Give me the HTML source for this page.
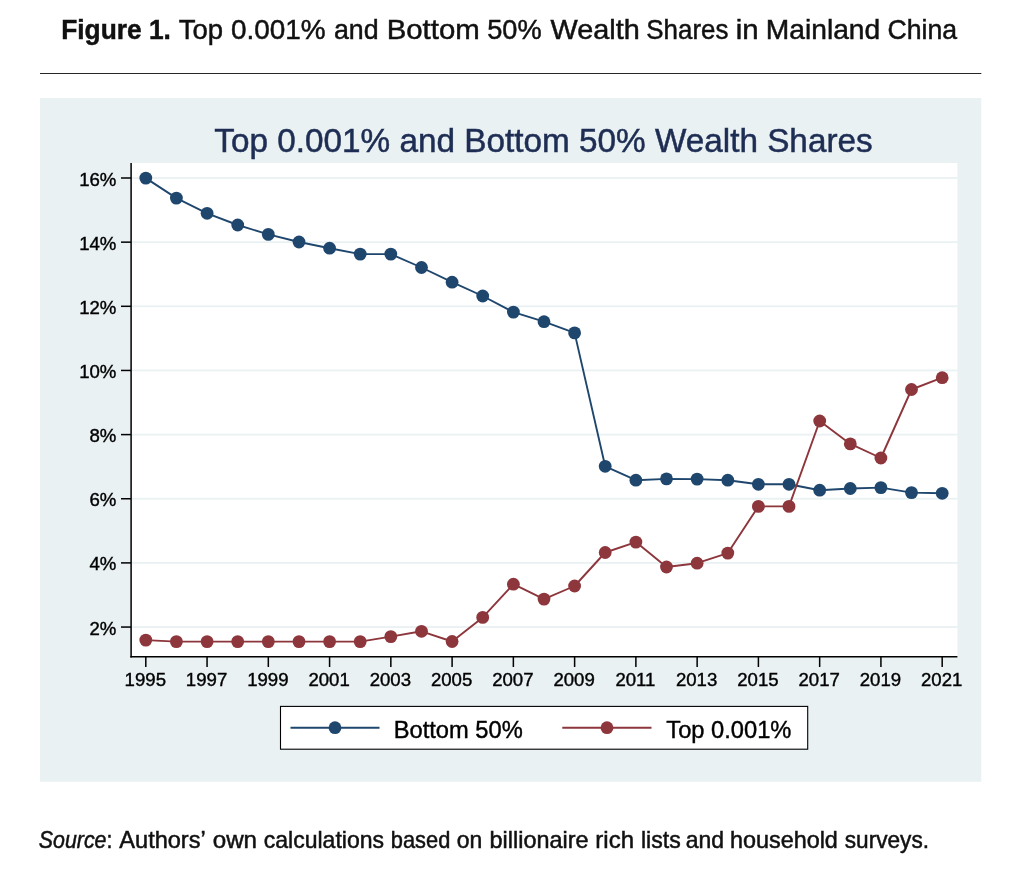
<!DOCTYPE html>
<html><head><meta charset="utf-8"><title>Figure 1</title>
<style>
html,body{margin:0;padding:0;background:#fff;}
body{width:1024px;height:872px;overflow:hidden;font-family:"Liberation Sans",sans-serif;}
svg{display:block;will-change:transform;}
svg text{font-family:"Liberation Sans",sans-serif;}
.ch text{stroke:#000;stroke-width:0.4px;}
.ch text.tt{stroke:#1e2d53;stroke-width:0.5px;}
.tx text{stroke:#111;stroke-width:0.5px;}
</style></head><body>
<svg width="1024" height="872" viewBox="0 0 1024 872">
<rect x="0" y="0" width="1024" height="872" fill="#ffffff"/>
<rect x="40" y="73" width="941.3" height="1" fill="#262626"/>
<g class="ch">
<rect x="40" y="98" width="941.3" height="683.8" fill="#eaf1f3"/>
<rect x="131.0" y="163.0" width="826.4" height="494.0" fill="#fff"/>
<rect x="131.0" y="177.10" width="826.4" height="1.8" fill="#eaf1f3"/>
<rect x="131.0" y="241.25" width="826.4" height="1.8" fill="#eaf1f3"/>
<rect x="131.0" y="305.40" width="826.4" height="1.8" fill="#eaf1f3"/>
<rect x="131.0" y="369.55" width="826.4" height="1.8" fill="#eaf1f3"/>
<rect x="131.0" y="433.70" width="826.4" height="1.8" fill="#eaf1f3"/>
<rect x="131.0" y="497.85" width="826.4" height="1.8" fill="#eaf1f3"/>
<rect x="131.0" y="562.00" width="826.4" height="1.8" fill="#eaf1f3"/>
<rect x="131.0" y="626.15" width="826.4" height="1.8" fill="#eaf1f3"/>
<polyline points="145.8,178.1 176.4,198.1 207.1,213.3 237.7,225.0 268.3,234.4 299.0,242.0 329.6,248.2 360.2,254.1 390.8,254.1 421.5,267.5 452.1,282.2 482.7,296.0 513.4,312.1 544.0,321.7 574.6,332.9 605.2,466.3 635.9,480.2 666.5,478.9 697.1,479.1 727.8,480.2 758.4,484.3 789.0,484.3 819.7,490.2 850.3,488.5 880.9,487.6 911.5,492.6 942.2,493.3" fill="none" stroke="#1f476e" stroke-width="1.9" stroke-linejoin="round"/>
<circle cx="145.8" cy="178.1" r="6.4" fill="#1f476e"/><circle cx="176.4" cy="198.1" r="6.4" fill="#1f476e"/><circle cx="207.1" cy="213.3" r="6.4" fill="#1f476e"/><circle cx="237.7" cy="225.0" r="6.4" fill="#1f476e"/><circle cx="268.3" cy="234.4" r="6.4" fill="#1f476e"/><circle cx="299.0" cy="242.0" r="6.4" fill="#1f476e"/><circle cx="329.6" cy="248.2" r="6.4" fill="#1f476e"/><circle cx="360.2" cy="254.1" r="6.4" fill="#1f476e"/><circle cx="390.8" cy="254.1" r="6.4" fill="#1f476e"/><circle cx="421.5" cy="267.5" r="6.4" fill="#1f476e"/><circle cx="452.1" cy="282.2" r="6.4" fill="#1f476e"/><circle cx="482.7" cy="296.0" r="6.4" fill="#1f476e"/><circle cx="513.4" cy="312.1" r="6.4" fill="#1f476e"/><circle cx="544.0" cy="321.7" r="6.4" fill="#1f476e"/><circle cx="574.6" cy="332.9" r="6.4" fill="#1f476e"/><circle cx="605.2" cy="466.3" r="6.4" fill="#1f476e"/><circle cx="635.9" cy="480.2" r="6.4" fill="#1f476e"/><circle cx="666.5" cy="478.9" r="6.4" fill="#1f476e"/><circle cx="697.1" cy="479.1" r="6.4" fill="#1f476e"/><circle cx="727.8" cy="480.2" r="6.4" fill="#1f476e"/><circle cx="758.4" cy="484.3" r="6.4" fill="#1f476e"/><circle cx="789.0" cy="484.3" r="6.4" fill="#1f476e"/><circle cx="819.7" cy="490.2" r="6.4" fill="#1f476e"/><circle cx="850.3" cy="488.5" r="6.4" fill="#1f476e"/><circle cx="880.9" cy="487.6" r="6.4" fill="#1f476e"/><circle cx="911.5" cy="492.6" r="6.4" fill="#1f476e"/><circle cx="942.2" cy="493.3" r="6.4" fill="#1f476e"/>

<polyline points="145.8,640.1 176.4,641.6 207.1,641.6 237.7,641.6 268.3,641.6 299.0,641.6 329.6,641.6 360.2,641.6 390.8,636.6 421.5,631.3 452.1,641.5 482.7,617.4 513.4,584.2 544.0,599.1 574.6,586.0 605.2,552.5 635.9,542.1 666.5,567.0 697.1,563.2 727.8,553.1 758.4,506.4 789.0,506.4 819.7,421.0 850.3,443.9 880.9,458.0 911.5,389.5 942.2,377.7" fill="none" stroke="#8d363c" stroke-width="1.9" stroke-linejoin="round"/>
<circle cx="145.8" cy="640.1" r="6.4" fill="#8d363c"/><circle cx="176.4" cy="641.6" r="6.4" fill="#8d363c"/><circle cx="207.1" cy="641.6" r="6.4" fill="#8d363c"/><circle cx="237.7" cy="641.6" r="6.4" fill="#8d363c"/><circle cx="268.3" cy="641.6" r="6.4" fill="#8d363c"/><circle cx="299.0" cy="641.6" r="6.4" fill="#8d363c"/><circle cx="329.6" cy="641.6" r="6.4" fill="#8d363c"/><circle cx="360.2" cy="641.6" r="6.4" fill="#8d363c"/><circle cx="390.8" cy="636.6" r="6.4" fill="#8d363c"/><circle cx="421.5" cy="631.3" r="6.4" fill="#8d363c"/><circle cx="452.1" cy="641.5" r="6.4" fill="#8d363c"/><circle cx="482.7" cy="617.4" r="6.4" fill="#8d363c"/><circle cx="513.4" cy="584.2" r="6.4" fill="#8d363c"/><circle cx="544.0" cy="599.1" r="6.4" fill="#8d363c"/><circle cx="574.6" cy="586.0" r="6.4" fill="#8d363c"/><circle cx="605.2" cy="552.5" r="6.4" fill="#8d363c"/><circle cx="635.9" cy="542.1" r="6.4" fill="#8d363c"/><circle cx="666.5" cy="567.0" r="6.4" fill="#8d363c"/><circle cx="697.1" cy="563.2" r="6.4" fill="#8d363c"/><circle cx="727.8" cy="553.1" r="6.4" fill="#8d363c"/><circle cx="758.4" cy="506.4" r="6.4" fill="#8d363c"/><circle cx="789.0" cy="506.4" r="6.4" fill="#8d363c"/><circle cx="819.7" cy="421.0" r="6.4" fill="#8d363c"/><circle cx="850.3" cy="443.9" r="6.4" fill="#8d363c"/><circle cx="880.9" cy="458.0" r="6.4" fill="#8d363c"/><circle cx="911.5" cy="389.5" r="6.4" fill="#8d363c"/><circle cx="942.2" cy="377.7" r="6.4" fill="#8d363c"/>

<rect x="130.35" y="163.0" width="1.5" height="494.5" fill="#000"/>
<rect x="130.35" y="656.0" width="827.05" height="1.5" fill="#000"/>
<rect x="121.0" y="177.25" width="10" height="1.5" fill="#000"/>
<text x="116.4" y="185.55" font-size="18.6" text-anchor="end" fill="#000">16%</text>
<rect x="121.0" y="241.40" width="10" height="1.5" fill="#000"/>
<text x="116.4" y="249.70" font-size="18.6" text-anchor="end" fill="#000">14%</text>
<rect x="121.0" y="305.55" width="10" height="1.5" fill="#000"/>
<text x="116.4" y="313.85" font-size="18.6" text-anchor="end" fill="#000">12%</text>
<rect x="121.0" y="369.70" width="10" height="1.5" fill="#000"/>
<text x="116.4" y="378.00" font-size="18.6" text-anchor="end" fill="#000">10%</text>
<rect x="121.0" y="433.85" width="10" height="1.5" fill="#000"/>
<text x="116.4" y="442.15" font-size="18.6" text-anchor="end" fill="#000">8%</text>
<rect x="121.0" y="498.00" width="10" height="1.5" fill="#000"/>
<text x="116.4" y="506.30" font-size="18.6" text-anchor="end" fill="#000">6%</text>
<rect x="121.0" y="562.15" width="10" height="1.5" fill="#000"/>
<text x="116.4" y="570.45" font-size="18.6" text-anchor="end" fill="#000">4%</text>
<rect x="121.0" y="626.30" width="10" height="1.5" fill="#000"/>
<text x="116.4" y="634.60" font-size="18.6" text-anchor="end" fill="#000">2%</text>
<rect x="145.05" y="657.0" width="1.5" height="10" fill="#000"/>
<text x="145.30" y="686.0" font-size="18.6" text-anchor="middle" fill="#000">1995</text>
<rect x="206.31" y="657.0" width="1.5" height="10" fill="#000"/>
<text x="206.56" y="686.0" font-size="18.6" text-anchor="middle" fill="#000">1997</text>
<rect x="267.57" y="657.0" width="1.5" height="10" fill="#000"/>
<text x="267.82" y="686.0" font-size="18.6" text-anchor="middle" fill="#000">1999</text>
<rect x="328.83" y="657.0" width="1.5" height="10" fill="#000"/>
<text x="329.08" y="686.0" font-size="18.6" text-anchor="middle" fill="#000">2001</text>
<rect x="390.09" y="657.0" width="1.5" height="10" fill="#000"/>
<text x="390.34" y="686.0" font-size="18.6" text-anchor="middle" fill="#000">2003</text>
<rect x="451.35" y="657.0" width="1.5" height="10" fill="#000"/>
<text x="451.60" y="686.0" font-size="18.6" text-anchor="middle" fill="#000">2005</text>
<rect x="512.61" y="657.0" width="1.5" height="10" fill="#000"/>
<text x="512.86" y="686.0" font-size="18.6" text-anchor="middle" fill="#000">2007</text>
<rect x="573.87" y="657.0" width="1.5" height="10" fill="#000"/>
<text x="574.12" y="686.0" font-size="18.6" text-anchor="middle" fill="#000">2009</text>
<rect x="635.13" y="657.0" width="1.5" height="10" fill="#000"/>
<text x="635.38" y="686.0" font-size="18.6" text-anchor="middle" fill="#000">2011</text>
<rect x="696.39" y="657.0" width="1.5" height="10" fill="#000"/>
<text x="696.64" y="686.0" font-size="18.6" text-anchor="middle" fill="#000">2013</text>
<rect x="757.65" y="657.0" width="1.5" height="10" fill="#000"/>
<text x="757.90" y="686.0" font-size="18.6" text-anchor="middle" fill="#000">2015</text>
<rect x="818.91" y="657.0" width="1.5" height="10" fill="#000"/>
<text x="819.16" y="686.0" font-size="18.6" text-anchor="middle" fill="#000">2017</text>
<rect x="880.17" y="657.0" width="1.5" height="10" fill="#000"/>
<text x="880.42" y="686.0" font-size="18.6" text-anchor="middle" fill="#000">2019</text>
<rect x="941.43" y="657.0" width="1.5" height="10" fill="#000"/>
<text x="941.68" y="686.0" font-size="18.6" text-anchor="middle" fill="#000">2021</text>
<text x="543.5" y="151.6" font-size="33.3" text-anchor="middle" class="tt" fill="#1e2d53">Top 0.001% and Bottom 50% Wealth Shares</text>
<rect x="280.5" y="706.4" width="527.2" height="42.8" fill="#fff" stroke="#000" stroke-width="1.1"/>
<line x1="290.5" y1="727.7" x2="379.5" y2="727.7" stroke="#1f476e" stroke-width="1.9"/>
<circle cx="335" cy="727.7" r="6.4" fill="#1f476e"/>
<text x="393.7" y="737.5" font-size="23.7" fill="#000">Bottom 50%</text>
<line x1="562.3" y1="727.7" x2="651.5" y2="727.7" stroke="#8d363c" stroke-width="1.9"/>
<circle cx="607" cy="727.7" r="6.4" fill="#8d363c"/>
<text x="666.3" y="737.5" font-size="23.7" fill="#000">Top 0.001%</text>
</g>
<g class="tx">
<text x="61.18" y="39.4" font-size="28.5" font-weight="bold" font-style="normal" fill="#111" textLength="109.76" lengthAdjust="spacingAndGlyphs">Figure 1.</text>

<text x="178.74" y="39.4" font-size="28.5" font-weight="normal" font-style="normal" fill="#111" textLength="44.32" lengthAdjust="spacingAndGlyphs">Top</text>
<text x="230.90" y="39.4" font-size="28.5" font-weight="normal" font-style="normal" fill="#111" textLength="94.68" lengthAdjust="spacingAndGlyphs">0.001%</text>
<text x="333.98" y="39.4" font-size="28.5" font-weight="normal" font-style="normal" fill="#111" textLength="44.68" lengthAdjust="spacingAndGlyphs">and</text>
<text x="386.68" y="39.4" font-size="28.5" font-weight="normal" font-style="normal" fill="#111" textLength="93.10" lengthAdjust="spacingAndGlyphs">Bottom</text>
<text x="487.22" y="39.4" font-size="28.5" font-weight="normal" font-style="normal" fill="#111" textLength="54.42" lengthAdjust="spacingAndGlyphs">50%</text>
<text x="550.62" y="39.4" font-size="28.5" font-weight="normal" font-style="normal" fill="#111" textLength="89.18" lengthAdjust="spacingAndGlyphs">Wealth</text>
<text x="646.34" y="39.4" font-size="28.5" font-weight="normal" font-style="normal" fill="#111" textLength="82.06" lengthAdjust="spacingAndGlyphs">Shares</text>
<text x="735.82" y="39.4" font-size="28.5" font-weight="normal" font-style="normal" fill="#111" textLength="22.86" lengthAdjust="spacingAndGlyphs">in</text>
<text x="765.80" y="39.4" font-size="28.5" font-weight="normal" font-style="normal" fill="#111" textLength="114.44" lengthAdjust="spacingAndGlyphs">Mainland</text>
<text x="887.46" y="39.4" font-size="28.5" font-weight="normal" font-style="normal" fill="#111" textLength="69.70" lengthAdjust="spacingAndGlyphs">China</text>

<text x="38.80" y="848.4" font-size="23.4" font-weight="normal" font-style="normal" fill="#111" textLength="73.64" lengthAdjust="spacingAndGlyphs"><tspan font-style="italic">Source</tspan>:</text>

<text x="119.34" y="848.4" font-size="23.4" font-weight="normal" font-style="normal" fill="#111" textLength="86.40" lengthAdjust="spacingAndGlyphs">Authors’</text>
<text x="212.74" y="848.4" font-size="23.4" font-weight="normal" font-style="normal" fill="#111" textLength="44.30" lengthAdjust="spacingAndGlyphs">own</text>
<text x="263.74" y="848.4" font-size="23.4" font-weight="normal" font-style="normal" fill="#111" textLength="120.28" lengthAdjust="spacingAndGlyphs">calculations</text>
<text x="390.84" y="848.4" font-size="23.4" font-weight="normal" font-style="normal" fill="#111" textLength="59.44" lengthAdjust="spacingAndGlyphs">based</text>
<text x="456.86" y="848.4" font-size="23.4" font-weight="normal" font-style="normal" fill="#111" textLength="25.54" lengthAdjust="spacingAndGlyphs">on</text>
<text x="489.60" y="848.4" font-size="23.4" font-weight="normal" font-style="normal" fill="#111" textLength="98.92" lengthAdjust="spacingAndGlyphs">billionaire</text>
<text x="595.34" y="848.4" font-size="23.4" font-weight="normal" font-style="normal" fill="#111" textLength="38.70" lengthAdjust="spacingAndGlyphs">rich</text>
<text x="640.96" y="848.4" font-size="23.4" font-weight="normal" font-style="normal" fill="#111" textLength="39.76" lengthAdjust="spacingAndGlyphs">lists</text>
<text x="685.72" y="848.4" font-size="23.4" font-weight="normal" font-style="normal" fill="#111" textLength="38.32" lengthAdjust="spacingAndGlyphs">and</text>
<text x="730.06" y="848.4" font-size="23.4" font-weight="normal" font-style="normal" fill="#111" textLength="107.82" lengthAdjust="spacingAndGlyphs">household</text>
<text x="844.76" y="848.4" font-size="23.4" font-weight="normal" font-style="normal" fill="#111" textLength="84.30" lengthAdjust="spacingAndGlyphs">surveys.</text>

</g>
</svg>
</body></html>
